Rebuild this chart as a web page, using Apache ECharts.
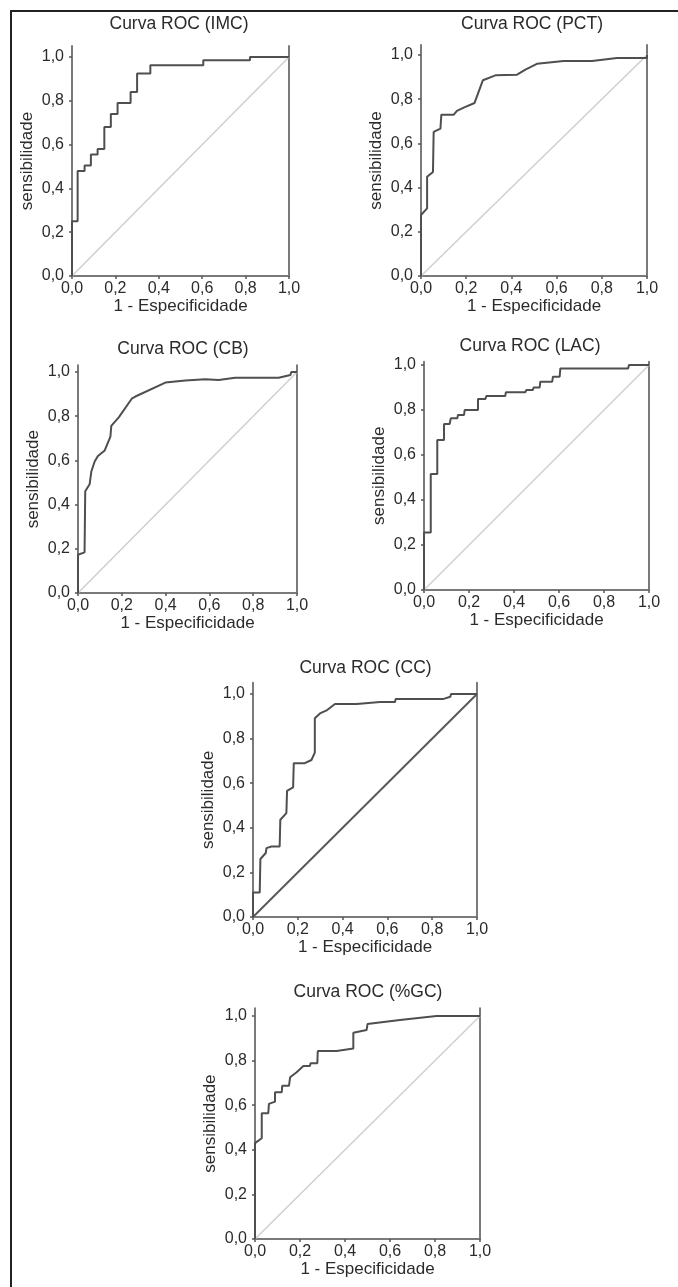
<!DOCTYPE html>
<html>
<head>
<meta charset="utf-8">
<script src="https://cdn.jsdelivr.net/npm/echarts@6/dist/echarts.min.js"></script>
<style>
  html, body { margin: 0; padding: 0; background: #fff; }
  #main { width: 678px; height: 1287px; }
  #frame { position: absolute; left: 10px; top: 10px; width: 700px; height: 1300px;
           border-left: 2px solid #222; border-top: 2px solid #222; pointer-events: none; }
</style>
</head>
<body>
<div id="main"></div>
<div id="frame"></div>
<script>
let rocIMC = [[0,0],[0,0.25],[0.026,0.25],[0.026,0.48],[0.058,0.48],[0.058,0.505],[0.087,0.505],[0.087,0.555],
  [0.118,0.555],[0.118,0.58],[0.149,0.58],[0.149,0.68],[0.179,0.68],[0.179,0.74],[0.21,0.74],[0.21,0.79],
  [0.27,0.79],[0.27,0.84],[0.30,0.84],[0.30,0.925],[0.361,0.925],[0.361,0.962],[0.605,0.962],[0.605,0.985],
  [0.82,0.985],[0.82,1],[1,1]];
let rocPCT = [[0,0],[0,0.276],[0.027,0.306],[0.027,0.449],[0.053,0.471],[0.056,0.652],[0.086,0.667],[0.09,0.73],
  [0.145,0.73],[0.159,0.747],[0.189,0.762],[0.237,0.783],[0.274,0.886],[0.329,0.908],[0.425,0.911],[0.462,0.934],
  [0.513,0.96],[0.631,0.973],[0.757,0.973],[0.867,0.986],[1,0.986],[1,1]];
let rocCB = [[0,0],[0,0.173],[0.03,0.184],[0.033,0.46],[0.053,0.492],[0.061,0.55],[0.076,0.595],[0.091,0.62],
  [0.122,0.645],[0.148,0.708],[0.152,0.756],[0.186,0.795],[0.247,0.881],[0.262,0.889],[0.399,0.952],[0.49,0.961],
  [0.581,0.967],[0.642,0.964],[0.718,0.974],[0.916,0.974],[0.97,0.986],[0.974,1],[1,1]];
let rocLAC = [[0,0],[0,0.256],[0.03,0.256],[0.03,0.516],[0.059,0.516],[0.059,0.667],[0.089,0.667],[0.089,0.738],
  [0.114,0.738],[0.119,0.763],[0.148,0.763],[0.151,0.778],[0.178,0.778],[0.181,0.8],[0.24,0.8],[0.24,0.849],
  [0.273,0.849],[0.277,0.862],[0.361,0.862],[0.364,0.879],[0.45,0.879],[0.455,0.889],[0.484,0.889],[0.487,0.9],
  [0.514,0.9],[0.517,0.926],[0.57,0.926],[0.573,0.948],[0.603,0.948],[0.606,0.985],[0.907,0.985],[0.911,1],[1,1]];
let rocCC = [[0,0],[0,0.11],[0.03,0.11],[0.033,0.26],[0.057,0.287],[0.06,0.309],[0.082,0.316],[0.119,0.316],
  [0.122,0.436],[0.149,0.466],[0.152,0.566],[0.179,0.581],[0.182,0.69],[0.231,0.69],[0.261,0.704],[0.276,0.737],
  [0.276,0.891],[0.299,0.913],[0.331,0.928],[0.366,0.955],[0.463,0.955],[0.567,0.964],[0.634,0.964],[0.637,0.978],
  [0.851,0.978],[0.881,0.988],[0.884,1],[1,1]];
let rocGC = [[0,0],[0,0.43],[0.03,0.452],[0.03,0.564],[0.059,0.564],[0.062,0.606],[0.089,0.616],[0.089,0.658],
  [0.119,0.658],[0.121,0.687],[0.151,0.687],[0.156,0.725],[0.185,0.748],[0.215,0.776],[0.244,0.776],[0.247,0.788],
  [0.277,0.788],[0.279,0.843],[0.363,0.843],[0.437,0.854],[0.437,0.925],[0.496,0.937],[0.5,0.964],[0.644,0.982],
  [0.807,1],[1,1]];
let refLine = [[0,0],[1,1]];

let tickVals = [0, 0.2, 0.4, 0.6, 0.8, 1.0];
let titles = ['Curva ROC (IMC)', 'Curva ROC (PCT)', 'Curva ROC (CB)', 'Curva ROC (LAC)', 'Curva ROC (CC)', 'Curva ROC (%GC)'];
let curves = [rocIMC, rocPCT, rocCB, rocLAC, rocCC, rocGC];

// posição de cada painel: x0/x1 = pixel de 0 e 1 no eixo x, y0/y1 = pixel de 0 e 1 no eixo y
let panels = [
  { x0: 72,  x1: 289, y0: 276,  y1: 57,   ymax: 1.05,  tx: 179, ty: 24.5, dark: false },
  { x0: 421, x1: 647, y0: 276,  y1: 55,   ymax: 1.045, tx: 532, ty: 24.5, dark: false },
  { x0: 78,  x1: 297, y0: 593,  y1: 372,  ymax: 1.03,  tx: 183, ty: 349,  dark: false },
  { x0: 424, x1: 649, y0: 590,  y1: 365,  ymax: 1.015, tx: 530, ty: 346.5, dark: false },
  { x0: 253, x1: 477, y0: 917,  y1: 694,  ymax: 1.05,  tx: 365.5, ty: 668, dark: true },
  { x0: 255, x1: 480, y0: 1239, y1: 1016, ymax: 1.035, tx: 368, ty: 992.5, dark: false }
];

let font = '"Liberation Sans", Arial, Helvetica, sans-serif';
let axisColor = '#7a7a7a';
let textColor = '#2b2b2b';
let fmt = function (v) { return v.toFixed(1).replace('.', ','); };

let option = { animation: false, backgroundColor: '#fff', title: [], grid: [], xAxis: [], yAxis: [], series: [] };

panels.forEach(function (p, i) {
    let unit = p.y0 - p.y1;
    let top = p.y0 - p.ymax * unit;
    option.title.push({
        text: titles[i], left: p.tx, top: p.ty - 9, textAlign: 'center', padding: 0,
        textStyle: { fontFamily: font, fontSize: 17.5, fontWeight: 'normal', color: textColor, lineHeight: 18 }
    });
    option.grid.push({ left: p.x0, top: top, width: p.x1 - p.x0, height: p.y0 - top, outerBoundsMode: 'none' });
    option.xAxis.push({
        gridIndex: i, type: 'value', min: 0, max: 1, interval: 0.2,
        name: '1 - Especificidade', nameLocation: 'middle', nameGap: 21,
        nameTextStyle: { fontFamily: font, fontSize: 17, color: textColor },
        axisLine: { show: true, lineStyle: { color: axisColor, width: 2 } },
        axisTick: { show: true, length: 3, customValues: tickVals, lineStyle: { color: '#555', width: 1.5 } },
        axisLabel: { customValues: tickVals, margin: 5, formatter: fmt, fontFamily: font, fontSize: 16, color: textColor },
        splitLine: { show: false }
    });
    option.yAxis.push({
        gridIndex: i, type: 'value', min: 0, max: p.ymax,
        name: 'sensibilidade', nameLocation: 'middle', nameGap: 36,
        nameTextStyle: { fontFamily: font, fontSize: 17, color: textColor },
        axisLine: { show: true, lineStyle: { color: axisColor, width: 2 } },
        axisTick: { show: true, length: 3, customValues: tickVals, lineStyle: { color: '#555', width: 1.5 } },
        axisLabel: { customValues: tickVals, margin: 8, formatter: fmt, fontFamily: font, fontSize: 16, color: textColor },
        splitLine: { show: false }
    });
    // linha vertical do lado direito (x = 1)
    option.yAxis.push({
        gridIndex: i, type: 'value', min: 0, max: p.ymax, position: 'right',
        axisLine: { show: true, onZero: false, lineStyle: { color: axisColor, width: 2 } },
        axisTick: { show: false }, axisLabel: { show: false }, splitLine: { show: false }
    });
    option.series.push({
        type: 'line', xAxisIndex: i, yAxisIndex: i * 2, data: refLine, symbol: 'none', silent: true,
        lineStyle: p.dark ? { color: '#5a5a5a', width: 2 } : { color: '#cfcfcf', width: 1.5 }
    });
    option.series.push({
        type: 'line', xAxisIndex: i, yAxisIndex: i * 2, data: curves[i], symbol: 'none',
        lineStyle: { color: '#4f4f4f', width: 2 }
    });
});

let chart = echarts.init(document.getElementById('main'));
chart.setOption(option);
</script>
</body>
</html>
